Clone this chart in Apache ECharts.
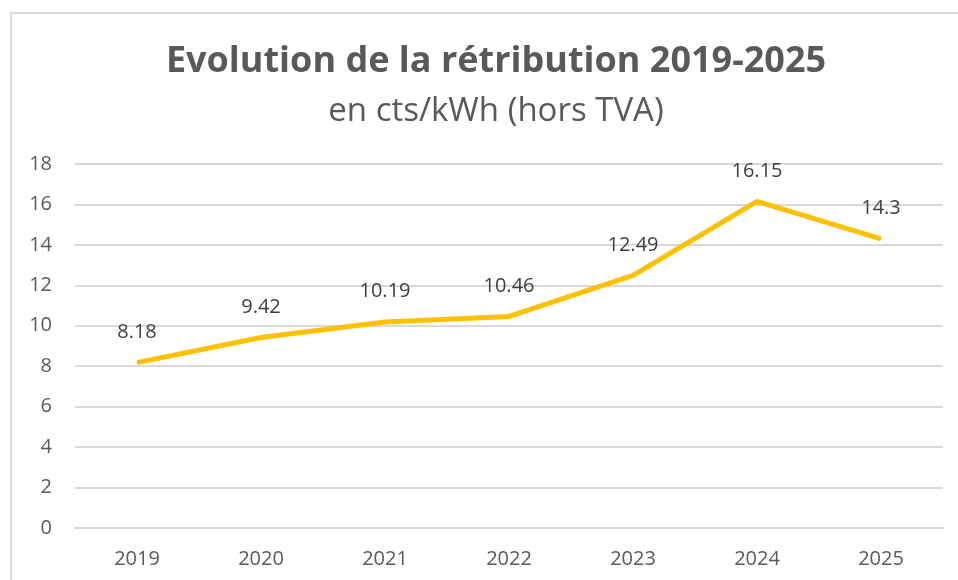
<!DOCTYPE html>
<html><head><meta charset="utf-8">
<script src="https://cdn.jsdelivr.net/npm/echarts@6/dist/echarts.min.js"></script>
<style>html,body{margin:0;padding:0;background:#fff}#c{width:958px;height:580px}</style>
</head><body><div id="c"></div>
<script>
const titleText = "Evolution de la rétribution 2019-2025";
const subtitleText = "en cts/kWh (hors TVA)";
const years = ["2019","2020","2021","2022","2023","2024","2025"];
const values = [8.18, 9.42, 10.19, 10.46, 12.49, 16.15, 14.3];
const yTicks = [0,2,4,6,8,10,12,14,16,18];

const chart = echarts.init(document.getElementById('c'));
chart.setOption({
  animation:false,
  backgroundColor:'#fff',
  graphic:[{type:'rect',shape:{x:11,y:13,width:1000,height:600},style:{fill:'none',stroke:'#d9d9d9',lineWidth:2},silent:true,z:-1}],
  title:[
    {text:titleText,left:491,top:39,textAlign:'center',textStyle:{fontFamily:'Open Sans',fontWeight:'bold',fontSize:36,color:'#595959'}},
    {text:subtitleText,left:491,top:90,textAlign:'center',textStyle:{fontFamily:'Open Sans',fontWeight:'normal',fontSize:33,color:'#595959'}}
  ],
  grid:{left:75,right:15,top:164,bottom:52,containLabel:false},
  xAxis:{type:'category',data:years,boundaryGap:true,
    axisLine:{show:true,lineStyle:{color:'#d9d9d9',width:2}},axisTick:{show:false},
    axisLabel:{color:'#595959',fontSize:20,fontFamily:'Open Sans',margin:21}},
  yAxis:{type:'value',min:0,max:18,interval:2,
    axisLine:{show:false},axisTick:{show:false},
    splitLine:{lineStyle:{color:'#d9d9d9',width:2}},
    axisLabel:{color:'#595959',fontSize:20,fontFamily:'Open Sans',margin:23,
      formatter:v=>yTicks.includes(v)?String(v):''}},
  series:[{type:'line',data:values,symbol:'circle',symbolSize:1,showSymbol:true,
    itemStyle:{color:'#ffc000'},
    lineStyle:{color:'#ffc000',width:5},
    label:{show:true,position:'top',distance:20,color:'#404040',fontSize:20,fontFamily:'Open Sans'}}]
});
</script></body></html>
